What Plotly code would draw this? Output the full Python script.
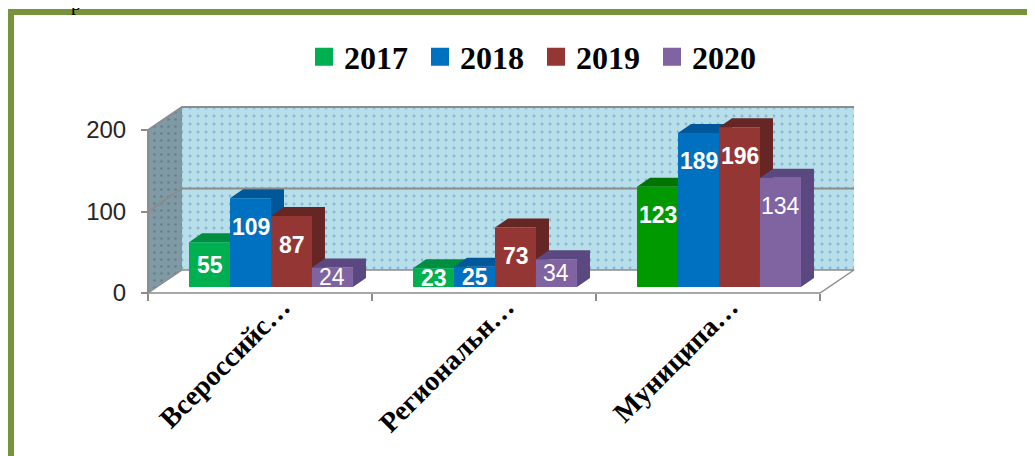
import plotly.graph_objects as go

# ---------------- data ----------------
categories = ["Всероссийс…", "Региональн…", "Муниципа…"]
years = ["2017", "2018", "2019", "2020"]
v2017 = [55, 23, 123]
v2018 = [109, 25, 189]
v2019 = [87, 73, 196]
v2020 = [24, 34, 134]
y_ticks = [0, 100, 200]

series_values = [v2017, v2018, v2019, v2020]
front_colors = [["#00B050", "#00B050", "#009A00"], "#0070C0", "#943634", "#8064A2"]
side_colors = [["#008F40", "#008F40", "#007400"], "#00589A", "#662624", "#5C4880"]
legend_colors = ["#00B050", "#0070C0", "#943634", "#8064A2"]
label_bold = [True, True, True, False]

# ---------------- geometry ----------------
W, H = 1035, 456
OFF = 8  # page offset of the figure (body margin)


def fx(p):   # page px -> figure px
    return p - OFF


L, R, T, B = fx(130), fx(880), fx(88), fx(312)
SX = 224.0      # px per category
SY = 0.815      # px per value unit
FX0, FY0 = fx(148), fx(293)   # front floor plane
BX0, BY0 = fx(159), fx(287)   # bar front plane
LBL_X0 = fx(170)              # category label anchor plane
WALL_DX, WALL_DY = 34, 23
BAR_DX, BAR_DY = 13, 9
BARGAP = 0.268


def rng_x(x0px):
    return [-0.5 + (L - x0px) / SX, -0.5 + (R - x0px) / SX]


def rng_y(y0px):
    return [(y0px - B) / SY, (y0px - T) / SY]


dom_x = [L / W, R / W]
dom_y = [(H - B) / H, (H - T) / H]

DXu, DYu = WALL_DX / SX, WALL_DY / SY
bdx, bdy = BAR_DX / SX, BAR_DY / SY
ymax = max(y_ticks)
n = len(categories)
x_lo, x_hi = -0.5, n - 0.5

fig = go.Figure()

# legend-only entries
for k, yr in enumerate(years):
    fig.add_trace(go.Scatter(x=[None], y=[None], mode="markers", name=yr,
                             marker=dict(symbol="square", size=16, color=legend_colors[k],
                                         line=dict(width=2, color=legend_colors[k])),
                             xaxis="x", yaxis="y", hoverinfo="skip"))

# back wall (rectangle as a bar with dotted pattern)
fig.add_trace(go.Bar(x=[(x_lo + x_hi) / 2 + DXu], y=[ymax], base=[DYu], width=[x_hi - x_lo],
                     marker=dict(color="#B7DFE9", line_width=0,
                                 pattern=dict(shape=".", fgcolor="#5A8AC6", bgcolor="#B7DFE9",
                                              size=8, solidity=0.1)),
                     showlegend=False, hoverinfo="skip", xaxis="x", yaxis="y"))

# side wall
fig.add_trace(go.Scatter(x=[x_lo, x_lo, x_lo + DXu, x_lo + DXu, x_lo],
                         y=[0, ymax, ymax + DYu, DYu, 0], mode="lines", fill="toself",
                         fillcolor="#7F9AA4", line=dict(width=0),
                         fillpattern=dict(shape=".", fgcolor="#4A6772", bgcolor="#7F9AA4",
                                          size=7, solidity=0.12),
                         showlegend=False, hoverinfo="skip", xaxis="x", yaxis="y"))

# floor
fig.add_trace(go.Scatter(x=[x_lo, x_hi, x_hi + DXu, x_lo + DXu, x_lo],
                         y=[0, 0, DYu, DYu, 0], mode="lines", fill="toself",
                         fillcolor="#FFFFFF", line=dict(width=1.5, color="#8C8C8C"),
                         showlegend=False, hoverinfo="skip", xaxis="x", yaxis="y"))

# wall grid lines / edges
gx, gy = [], []
for t in y_ticks[1:]:
    gx += [x_lo, x_lo + DXu, x_hi + DXu, None]
    gy += [t, t + DYu, t + DYu, None]
gx += [x_lo, x_lo, None]
gy += [0, ymax, None]
fig.add_trace(go.Scatter(x=gx, y=gy, mode="lines", line=dict(width=2, color="#8C8C8C"),
                         showlegend=False, hoverinfo="skip", xaxis="x", yaxis="y"))

# bar side/top faces (bar plane, drawn under front faces)
G = 1 - BARGAP
w = G / len(years)
annotations = []
for k, vals in enumerate(series_values):
    for i, v in enumerate(vals):
        left = i - G / 2 + k * w
        right = left + w
        sc = side_colors[k][i] if isinstance(side_colors[k], list) else side_colors[k]
        fig.add_trace(go.Scatter(
            x=[left, left + bdx, right + bdx, right + bdx, right, right, left],
            y=[v, v + bdy, v + bdy, bdy, 0, v, v],
            mode="lines", fill="toself", fillcolor=sc, line=dict(width=0),
            showlegend=False, hoverinfo="skip", xaxis="x2", yaxis="y2"))
        ly = max(v - 35, v / 2)
        annotations.append(dict(
            x=left + w / 2, y=ly, xref="x2", yref="y2", text=str(v), showarrow=False,
            font=dict(family="Liberation Sans", size=23, color="white",
                      weight="bold" if label_bold[k] else "normal")))

# bar front faces
for k, vals in enumerate(series_values):
    fig.add_trace(go.Bar(x=categories, y=vals, name=years[k],
                         marker=dict(color=front_colors[k], line_width=0),
                         showlegend=False, xaxis="x3", yaxis="y3"))

# stray glyph from surrounding document
annotations.append(dict(x=fx(76) / W, y=(H + 4) / H, xref="paper", yref="paper", text="р",
                        showarrow=False, xanchor="center", yanchor="middle",
                        font=dict(family="Liberation Serif", size=20, color="black")))

axis_common = dict(showgrid=False, zeroline=False, showline=False)
fig.update_layout(
    width=W, height=H,
    margin=dict(l=0, r=0, t=0, b=0),
    paper_bgcolor="white", plot_bgcolor="rgba(0,0,0,0)",
    barmode="group", bargap=BARGAP, bargroupgap=0,
    xaxis=dict(domain=dom_x, range=rng_x(FX0), anchor="free", position=(H - FY0) / H,
               tickvals=[x_lo + j for j in range(n + 1)], ticks="outside", ticklen=7,
               tickcolor="#8C8C8C", tickwidth=1.5, showticklabels=False, **axis_common),
    yaxis=dict(domain=dom_y, range=rng_y(FY0), anchor="free", position=FX0 / W,
               tickvals=y_ticks, ticks="outside", ticklen=7, tickcolor="#8C8C8C", tickwidth=1.5,
               tickfont=dict(family="Liberation Sans", size=24, color="#262626"),
               ticklabelstandoff=10, **axis_common),
    xaxis2=dict(overlaying="x", range=rng_x(BX0), visible=False),
    yaxis2=dict(overlaying="y", range=rng_y(BY0), visible=False),
    xaxis3=dict(overlaying="x", type="category", categoryorder="array", categoryarray=categories,
                range=rng_x(BX0), showticklabels=False, ticks="", **axis_common),
    yaxis3=dict(overlaying="y", range=rng_y(BY0), visible=False),
    xaxis4=dict(overlaying="x", type="category", categoryorder="array", categoryarray=categories,
                range=rng_x(LBL_X0), anchor="free", position=(H - fx(284)) / H, ticks="",
                tickangle=-45,
                tickfont=dict(family="Liberation Serif", size=28, color="black", weight="bold"),
                **axis_common),
    legend=dict(orientation="h", x=fx(536) / W, xanchor="center", y=(H - fx(57)) / H,
                yanchor="middle",
                font=dict(family="Liberation Serif", size=32, color="black", weight="bold"),
                entrywidth=71, entrywidthmode="pixels", bgcolor="rgba(0,0,0,0)",
                itemclick=False),
    shapes=[dict(type="rect", xref="paper", yref="paper", x0=fx(11) / W, x1=1.1, y0=-0.2,
                 y1=(H - fx(12)) / H,
                 line=dict(color="#77933C", width=6), fillcolor="rgba(0,0,0,0)", layer="above")],
    annotations=annotations,
    showlegend=True,
)

# an invisible trace binds the label axis
fig.add_trace(go.Bar(x=categories, y=[None] * n, showlegend=False, hoverinfo="skip",
                     xaxis="x4", yaxis="y3"))

fig.write_html("out.html")
